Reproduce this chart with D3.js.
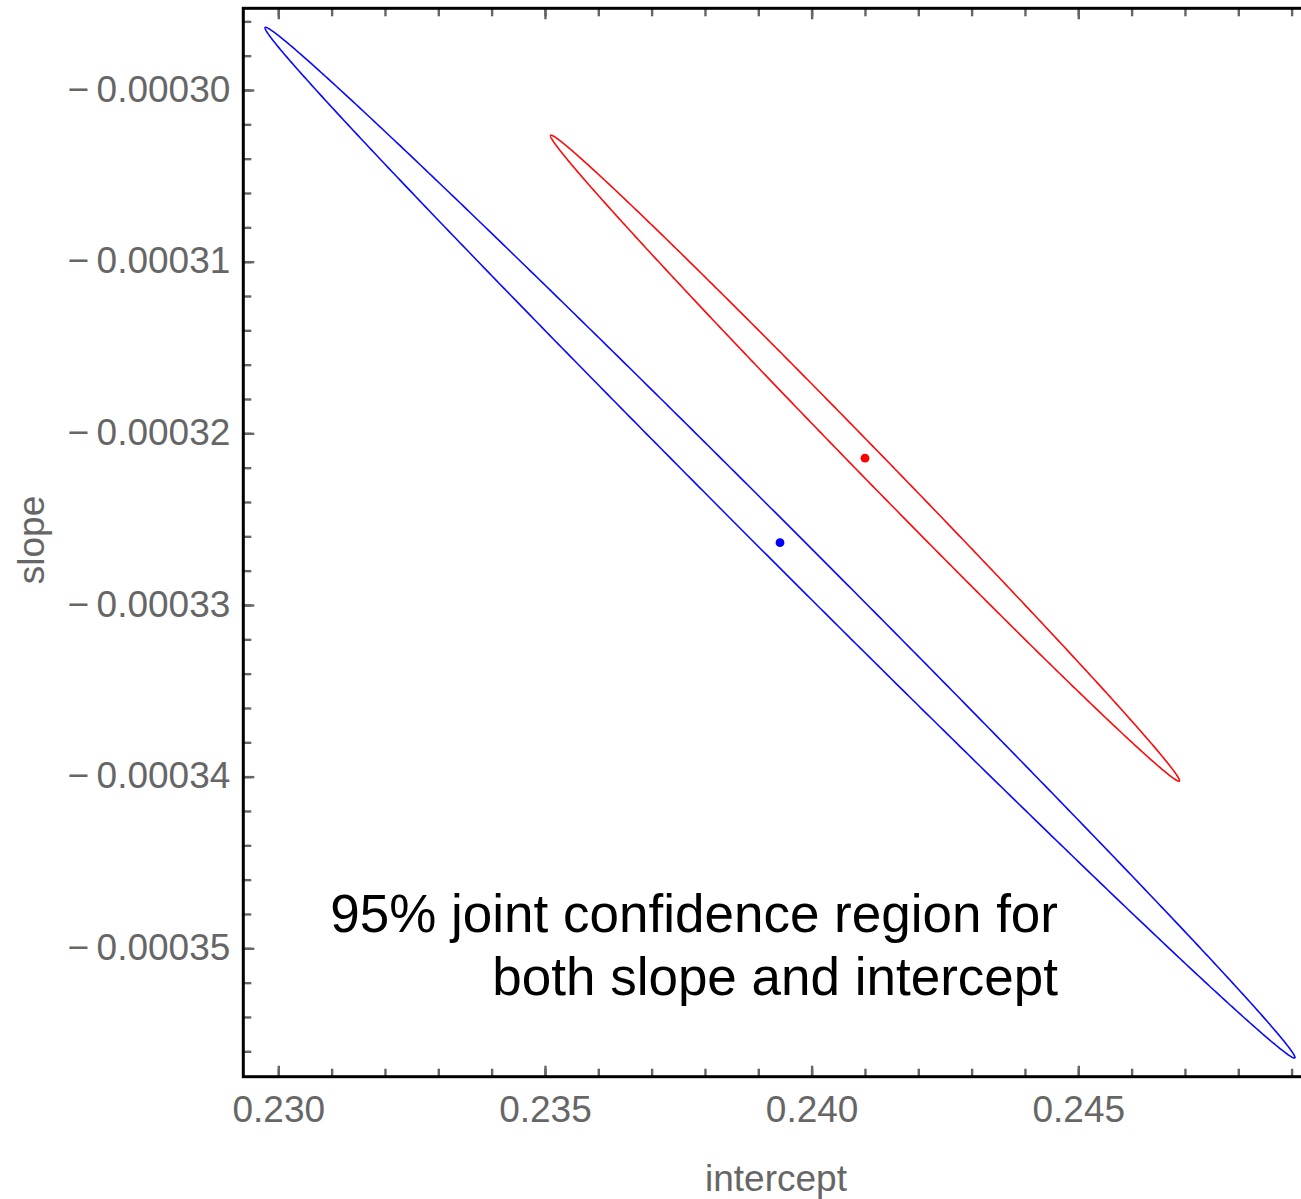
<!DOCTYPE html>
<html>
<head>
<meta charset="utf-8">
<script src="https://cdn.jsdelivr.net/npm/d3@7"></script>
<style>
  html, body { margin: 0; padding: 0; background: #fff; overflow: hidden; }
  svg { display: block; }
  text { font-family: "Liberation Sans", Arial, sans-serif; }
</style>
</head>
<body>
<svg id="chart" width="1301" height="1199"></svg>
<script>
// Least-squares estimates for the two fits (intercept, slope)
const seriesNames = ["fit 1", "fit 2"];
const estimateIntercept = [0.239407, 0.241001];
const estimateSlope = [-0.00032637, -0.00032145];
// Standard errors of the estimates and their correlation
const seIntercept = [0.0039449, 0.0024092];
const seSlope = [1.22658e-5, 7.6872e-6];
const correlation = [-0.998775, -0.99808];
// 95% quantile of chi-square with 2 degrees of freedom
const chiSq95 = 5.991;

// Axis ranges and ticks
const interceptRange = [0.2293437, 0.2500574];
const slopeRange = [-0.00035748, -0.00029524];
const interceptMajor = [0.230, 0.235, 0.240, 0.245];
const interceptMajorLabels = ["0.230", "0.235", "0.240", "0.245"];
const interceptMinor = d3.range(230, 251).map(v => v / 1000);
const slopeMajor = [-0.00030, -0.00031, -0.00032, -0.00033, -0.00034, -0.00035];
const slopeMajorLabels = ["\u2212\u20090.00030", "\u2212\u20090.00031", "\u2212\u20090.00032", "\u2212\u20090.00033", "\u2212\u20090.00034", "\u2212\u20090.00035"];
const slopeMinor = d3.range(-356, -295, 2).map(v => v / 1e6);

const annotationLines = ["95% joint confidence region for", "both slope and intercept"];
const xTitle = "intercept";
const yTitle = "slope";

const lineColors = ["#0a0aff", "#ff0a0a"];
const dotColors = ["#0000ff", "#ff0000"];

// Plot box
const box = { left: 243.3, top: 8.3, right: 1348, bottom: 1076.7 };

const svg = d3.select("#chart");
const x = d3.scaleLinear().domain(interceptRange).range([box.left, box.right]);
const y = d3.scaleLinear().domain(slopeRange).range([box.bottom, box.top]);

const labelMap = (vals, labels) => v => {
  const i = vals.findIndex(u => Math.abs(u - v) < 1e-12);
  return i >= 0 ? labels[i] : "";
};

function styleAxis(g) {
  g.select(".domain").remove();
  g.selectAll(".tick line").attr("stroke", "#666").attr("stroke-width", 2.4);
  g.selectAll(".tick text")
    .attr("fill", "#666")
    .style("font-size", "37px");
}

// Bottom frame ticks
svg.append("g").attr("transform", `translate(0,${box.bottom})`)
  .call(d3.axisBottom(x).tickValues(interceptMinor).tickSize(-8).tickFormat(""))
  .call(styleAxis);
svg.append("g").attr("transform", `translate(0,${box.bottom})`)
  .call(d3.axisBottom(x).tickValues(interceptMajor).tickSize(-11)
    .tickPadding(19).tickFormat(labelMap(interceptMajor, interceptMajorLabels)))
  .call(styleAxis);

// Top frame ticks (unlabelled)
svg.append("g").attr("transform", `translate(0,${box.top})`)
  .call(d3.axisTop(x).tickValues(interceptMinor).tickSize(-8).tickFormat(""))
  .call(styleAxis);
svg.append("g").attr("transform", `translate(0,${box.top})`)
  .call(d3.axisTop(x).tickValues(interceptMajor).tickSize(-11).tickFormat(""))
  .call(styleAxis);

// Left frame ticks
svg.append("g").attr("transform", `translate(${box.left},0)`)
  .call(d3.axisLeft(y).tickValues(slopeMinor).tickSize(-8).tickFormat(""))
  .call(styleAxis);
svg.append("g").attr("transform", `translate(${box.left},0)`)
  .call(d3.axisLeft(y).tickValues(slopeMajor).tickSize(-11)
    .tickPadding(13).tickFormat(labelMap(slopeMajor, slopeMajorLabels)))
  .call(styleAxis)
  .call(g => g.selectAll(".tick text").attr("dy", "0.3em"));

// Frame
svg.append("rect")
  .attr("x", box.left).attr("y", box.top)
  .attr("width", box.right - box.left).attr("height", box.bottom - box.top)
  .attr("fill", "none").attr("stroke", "#000").attr("stroke-width", 3);

// Confidence ellipses: points of the 95% contour from the covariance (Cholesky form)
const radius = Math.sqrt(chiSq95);
const angles = d3.range(0, 720).map(i => i / 720 * 2 * Math.PI);
const line = d3.line().x(d => x(d[0])).y(d => y(d[1])).curve(d3.curveLinearClosed);

const plot = svg.append("g");
seriesNames.forEach((name, i) => {
  const rho = correlation[i];
  const pts = angles.map(t => [
    estimateIntercept[i] + radius * seIntercept[i] * Math.cos(t),
    estimateSlope[i] + radius * seSlope[i] * (rho * Math.cos(t) + Math.sqrt(1 - rho * rho) * Math.sin(t))
  ]);
  plot.append("path")
    .datum(pts)
    .attr("d", line)
    .attr("fill", "none")
    .attr("stroke", lineColors[i])
    .attr("stroke-width", 1.6);
});

// Point estimates
plot.selectAll("circle.est")
  .data(seriesNames)
  .join("circle")
  .attr("class", "est")
  .attr("cx", (d, i) => x(estimateIntercept[i]))
  .attr("cy", (d, i) => y(estimateSlope[i]))
  .attr("r", 4.4)
  .attr("fill", (d, i) => dotColors[i]);

// Axis titles
svg.append("text")
  .attr("x", 776).attr("y", 1191)
  .attr("text-anchor", "middle")
  .attr("fill", "#666")
  .style("font-size", "37px")
  .text(xTitle);
svg.append("text")
  .attr("transform", "translate(44,540) rotate(-90)")
  .attr("text-anchor", "middle")
  .attr("fill", "#666")
  .style("font-size", "37px")
  .text(yTitle);

// Annotation
const ann = svg.append("text")
  .attr("text-anchor", "end")
  .attr("fill", "#000")
  .style("font-size", "53px");
annotationLines.forEach((t, i) => {
  ann.append("tspan").attr("x", 1058).attr("y", 932 + i * 63).text(t);
});
</script>
</body>
</html>
